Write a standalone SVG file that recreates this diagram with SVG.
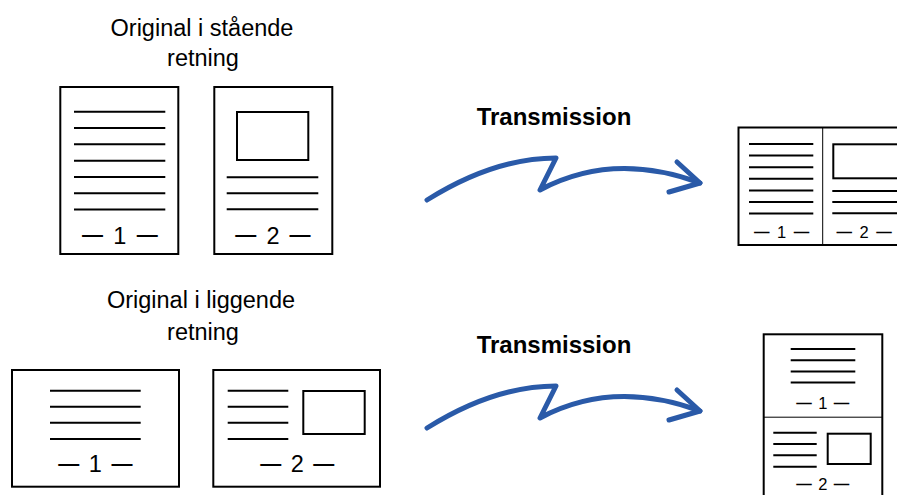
<svg xmlns="http://www.w3.org/2000/svg" width="897" height="495" viewBox="0 0 897 495">
<style>
.pg{fill:#fff;stroke:#000;stroke-width:2}
.ln{stroke:#000;stroke-width:2;fill:none}
.dv{stroke:#000;stroke-width:1;fill:none}
.lbl{font-family:"Liberation Sans",Arial,sans-serif;font-size:23.5px;fill:#000;text-anchor:middle}
.tr{font-family:"Liberation Sans",Arial,sans-serif;font-size:24px;font-weight:bold;fill:#000;text-anchor:middle}
.num{font-family:"Liberation Sans",Arial,sans-serif;font-size:23.5px;fill:#000;text-anchor:middle}
.snum{font-family:"Liberation Sans",Arial,sans-serif;font-size:16.5px;fill:#000;text-anchor:middle}
.d{font-size:21px;font-weight:bold}
.sd{font-size:15.5px;font-weight:bold}
.arr{fill:none;stroke:#2a5aa8;stroke-width:5;stroke-linecap:round;stroke-linejoin:round}
</style>
<defs>
<g id="arrowShape">
<path class="arr" d="M427,200 Q494,158 556,158 L540,190 Q613,151 700,183"/>
<path class="arr" d="M677,162 L700,183 L669,192"/>
</g>
</defs>

<g id="label-portrait">
<text class="lbl" x="202" y="36">Original i stående</text>
<text class="lbl" x="203" y="66">retning</text>
</g>

<g id="portrait-page1">
<rect class="pg" x="60.3" y="87" width="118" height="167"/>
<path class="ln" d="M74,111.7H165.3M74,128H165.3M74,144.3H165.3M74,160.7H165.3M74,177H165.3M74,193.3H165.3M74,209.6H165.3"/>
<text class="num"><tspan class="d" x="92.5" y="241.3">—</tspan><tspan x="119.7" y="243.5">1</tspan><tspan class="d" x="147.2" y="241.3">—</tspan></text>
</g>

<g id="portrait-page2">
<rect class="pg" x="214.3" y="87" width="118" height="167"/>
<rect class="pg" x="237" y="112" width="71.3" height="48"/>
<path class="ln" d="M226.7,177.3H318.3M226.7,193.3H318.3M226.7,209.3H318.3"/>
<text class="num"><tspan class="d" x="245.8" y="241.3">—</tspan><tspan x="273" y="243.5">2</tspan><tspan class="d" x="300" y="241.3">—</tspan></text>
</g>

<g id="label-transmission-1">
<text class="tr" x="554" y="125">Transmission</text>
</g>

<g id="result-portrait">
<rect class="pg" x="738.5" y="127.5" width="175" height="117.5"/>
<path class="dv" d="M822.7,127.5V245"/>
<path class="ln" d="M749,144H813.3M749,155.6H813.3M749,167.2H813.3M749,178.8H813.3M749,190.4H813.3M749,202H813.3M749,213.6H813.3"/>
<text class="snum"><tspan class="sd" x="761.8" y="237">—</tspan><tspan x="781.7" y="238.3">1</tspan><tspan class="sd" x="801.6" y="237">—</tspan></text>
<rect class="pg" x="833.3" y="144.3" width="80" height="34"/>
<path class="ln" d="M832.3,191H910M832.3,202H910M832.3,213.3H910"/>
<text class="snum"><tspan class="sd" x="844.3" y="237">—</tspan><tspan x="864.2" y="238.3">2</tspan><tspan class="sd" x="884.1" y="237">—</tspan></text>
</g>

<g id="label-landscape">
<text class="lbl" x="201" y="308">Original i liggende</text>
<text class="lbl" x="203" y="340">retning</text>
</g>

<g id="landscape-page1">
<rect class="pg" x="12" y="370" width="167" height="116.7"/>
<path class="ln" d="M50,390.7H140.7M50,406.7H140.7M50,422.7H140.7M50,439H140.7"/>
<text class="num"><tspan class="d" x="68.7" y="470.1">—</tspan><tspan x="95.3" y="472.3">1</tspan><tspan class="d" x="122" y="470.1">—</tspan></text>
</g>

<g id="landscape-page2">
<rect class="pg" x="213.3" y="370" width="166.7" height="116.7"/>
<path class="ln" d="M227.7,390.7H288.3M227.7,406.7H288.3M227.7,422.7H288.3M227.7,439H288.3"/>
<rect class="pg" x="303.3" y="391" width="61.4" height="43"/>
<text class="num"><tspan class="d" x="270.8" y="470.1">—</tspan><tspan x="297.3" y="472.3">2</tspan><tspan class="d" x="323.8" y="470.1">—</tspan></text>
</g>

<g id="label-transmission-2">
<text class="tr" x="554" y="353">Transmission</text>
</g>

<g id="result-landscape">
<rect class="pg" x="763.7" y="334.3" width="118.6" height="175"/>
<path class="dv" d="M763.7,417.2H882.3"/>
<path class="ln" d="M790.7,349H855.3M790.7,360.2H855.3M790.7,371.4H855.3M790.7,382.6H855.3"/>
<text class="snum"><tspan class="sd" x="804" y="407.7">—</tspan><tspan x="822.8" y="409">1</tspan><tspan class="sd" x="841.6" y="407.7">—</tspan></text>
<path class="ln" d="M773.3,432.7H816.7M773.3,444H816.7M773.3,455.3H816.7M773.3,466.7H816.7"/>
<rect class="pg" x="827.7" y="433.7" width="43" height="30.3"/>
<text class="snum"><tspan class="sd" x="804" y="488.7">—</tspan><tspan x="822.8" y="490">2</tspan><tspan class="sd" x="841.6" y="488.7">—</tspan></text>
</g>

<g id="connectors">
<use href="#arrowShape"/>
<use href="#arrowShape" transform="translate(0,228)"/>
</g>
</svg>
